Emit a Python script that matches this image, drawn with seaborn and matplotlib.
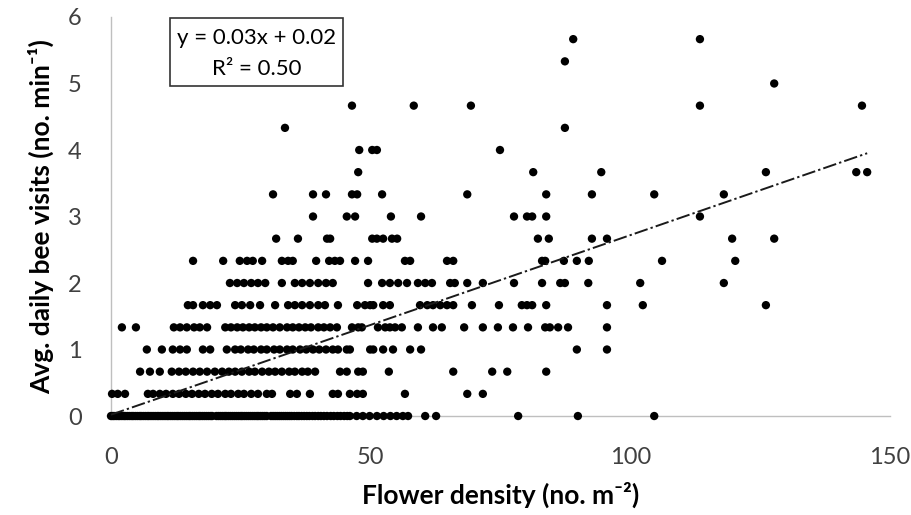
import numpy as np
import pandas as pd
import matplotlib
matplotlib.use("Agg")
import matplotlib.pyplot as plt
import seaborn as sns
from matplotlib.patches import Rectangle

# Flower density (no. m-2) values for each level of avg. daily bee visits
x_at_0 = [0.0, 0.3, 0.6, 1.0, 1.4, 1.7, 2.1, 2.5, 2.8, 3.2, 3.6, 4.0, 4.3, 4.7, 5.1, 5.5,
          5.8, 6.2, 6.6, 7.0, 7.3, 7.7, 8.1, 8.5, 8.9, 9.2, 9.6, 10.0, 10.4, 10.8, 11.1,
          11.5, 11.9, 12.3, 12.7, 13.0, 13.4, 13.8, 14.2, 14.6, 15.0, 15.3, 15.7, 16.1,
          16.5, 16.9, 17.2, 17.6, 18.0, 18.4, 18.8, 19.2, 19.5, 20.3, 20.7, 21.1, 21.5,
          21.9, 22.2, 22.6, 23.0, 23.4, 23.8, 24.2, 24.6, 25.0, 25.3, 25.7, 26.1, 26.5,
          26.9, 27.3, 27.7, 28.1, 28.4, 28.8, 29.2, 29.6, 30.0, 30.8, 31.2, 31.6, 32.0,
          32.4, 32.8, 33.2, 33.6, 34.0, 34.4, 34.8, 35.3, 35.8, 36.2, 36.7, 37.2, 37.7,
          38.2, 38.8, 39.3, 39.9, 40.4, 41.0, 41.6, 42.3, 42.9, 43.6, 44.2, 44.9, 45.5,
          46.0, 47.3, 48.5, 49.8, 51.2, 52.5, 53.8, 55.0, 56.2, 57.2, 60.5, 62.6, 78.4,
          89.9, 104.6]
x_at_033 = [0.2, 1.3, 2.7, 7.1, 8.1, 9.4, 10.6, 11.9, 13.1, 14.4, 15.6, 16.9, 18.1, 19.4,
            20.6, 22.0, 23.1, 24.5, 25.6, 27.0, 28.3, 30.0, 31.0, 34.5, 35.8, 38.3, 42.7,
            43.7, 46.0, 47.4, 48.5, 56.6, 68.6, 71.6]
x_at_067 = [5.6, 7.5, 9.4, 11.7, 13.1, 14.4, 15.8, 17.1, 18.5, 20.0, 21.4, 22.7, 23.9,
            25.2, 26.6, 27.7, 29.1, 30.4, 31.6, 32.9, 34.3, 35.4, 36.8, 37.9, 39.3, 44.1,
            45.4, 47.6, 48.5, 53.5, 65.9, 73.4, 76.3, 83.8]
x_at_1 = [6.9, 9.8, 11.9, 13.3, 14.6, 17.7, 19.1, 22.3, 23.9, 25.0, 26.4, 27.5, 28.9,
          30.0, 31.4, 32.5, 33.9, 35.0, 36.4, 37.6, 38.9, 40.1, 41.4, 42.7, 43.7, 45.4,
          46.0, 49.9, 50.5, 52.4, 54.3, 57.6, 59.7, 89.7, 95.5]
x_at_133 = [2.1, 4.8, 12.1, 13.3, 14.6, 16.0, 17.1, 18.5, 22.0, 23.1, 24.3, 25.4, 26.6,
            27.7, 28.9, 30.0, 31.2, 32.5, 33.9, 35.0, 36.2, 37.4, 38.5, 39.9, 41.0, 42.2,
            43.5, 46.4, 47.6, 48.3, 51.4, 52.8, 53.7, 54.7, 56.0, 59.1, 62.0, 63.7, 68.0,
            71.6, 74.5, 77.4, 80.3, 83.6, 84.5, 86.1, 88.0, 95.5]
x_at_167 = [14.8, 15.8, 17.7, 19.1, 20.4, 23.9, 25.2, 26.8, 28.7, 31.6, 34.1, 35.4, 36.8,
            38.3, 39.9, 41.2, 43.7, 47.4, 48.9, 49.9, 50.5, 52.4, 53.7, 59.5, 60.9, 62.0,
            63.4, 64.7, 65.9, 69.5, 74.7, 79.1, 80.1, 81.1, 83.8, 95.5, 102.4, 126.1]
x_at_2 = [22.9, 24.3, 25.6, 27.0, 28.3, 29.7, 32.9, 35.4, 36.8, 38.3, 39.9, 41.4, 42.7,
          49.5, 52.2, 53.7, 55.3, 57.0, 59.1, 60.5, 61.8, 65.3, 66.2, 68.6, 71.6, 77.6,
          83.0, 86.5, 87.4, 91.9, 101.9, 118.0]
x_at_233 = [15.8, 21.6, 24.8, 26.2, 27.3, 29.1, 32.9, 34.1, 35.0, 39.5, 42.0, 43.1, 44.1,
            47.0, 49.5, 56.6, 57.6, 64.7, 65.9, 83.0, 83.6, 87.2, 89.7, 92.0, 106.1, 120.2]
x_at_267 = [31.8, 36.0, 41.6, 42.2, 50.3, 51.2, 52.4, 54.1, 55.1, 82.2, 84.3, 92.6, 95.5,
            119.6, 127.7]
x_at_3 = [38.9, 45.4, 47.0, 53.9, 59.7, 77.6, 80.1, 81.1, 83.8, 113.4]
x_at_333 = [31.2, 38.9, 41.4, 46.4, 47.4, 52.2, 68.6, 83.8, 92.6, 104.6, 118.0]
x_at_367 = [47.6, 81.3, 94.4, 126.1, 143.5, 145.6]
x_at_4 = [47.8, 50.3, 51.2, 74.9]
x_at_433 = [33.5, 87.4]
x_at_467 = [46.4, 58.3, 69.3, 113.4, 144.6]
x_at_5 = [127.7]
x_at_533 = [87.4]
x_at_567 = [89.0, 113.4]

visit_levels = [0, 0.333, 0.667, 1.0, 1.333, 1.667, 2.0, 2.333, 2.667, 3.0, 3.333,
                3.667, 4.0, 4.333, 4.667, 5.0, 5.333, 5.667]
density_rows = [x_at_0, x_at_033, x_at_067, x_at_1, x_at_133, x_at_167, x_at_2,
                x_at_233, x_at_267, x_at_3, x_at_333, x_at_367, x_at_4, x_at_433,
                x_at_467, x_at_5, x_at_533, x_at_567]

# Linear trendline as printed on the chart (slope)
trend_slope = 0.027
trend_intercept = 0.02
equation_text = "y = 0.03x + 0.02"
r2_text = "R² = 0.50"

x_ticks = [0, 50, 100, 150]
y_ticks = [0, 1, 2, 3, 4, 5, 6]

rows = []
for lvl, xs in zip(visit_levels, density_rows):
    for xv in xs:
        rows.append((xv, lvl))
df = pd.DataFrame(rows, columns=["density", "visits"])

sns.set_theme(style="white")
plt.rcParams["font.family"] = ["Lato", "DejaVu Sans"]

fig = plt.figure(figsize=(9.12, 5.15), dpi=100)
ax = fig.add_axes([0.1217, 0.1922, 0.8542, 0.7748])

sns.scatterplot(data=df, x="density", y="visits", color="black", s=36,
                edgecolor="none", linewidth=0, ax=ax, clip_on=False, zorder=3)

line_x = np.array([0, df["density"].max()])
line_y = trend_intercept + trend_slope * line_x
ax.plot(line_x, line_y, color="#1a1a1a", lw=1.4,
        linestyle=(0, (7, 1.6, 1.2, 1.6)), zorder=4, clip_on=False)

ax.set_xlim(0, 150)
ax.set_ylim(0, 6)
ax.set_xticks(x_ticks)
ax.set_yticks(y_ticks)
ax.tick_params(axis="both", length=0, labelsize=17, labelcolor="#404040")
ax.tick_params(axis="y", pad=21)
ax.tick_params(axis="x", pad=22)

for side in ["top", "right"]:
    ax.spines[side].set_visible(False)
for side in ["left", "bottom"]:
    ax.spines[side].set_color("#bfbfbf")
    ax.spines[side].set_linewidth(1.0)

ax.set_xlabel("Flower density (no. m⁻²)", fontsize=19, fontweight="bold",
              color="black", labelpad=10)
ax.set_ylabel("Avg. daily bee visits (no. min⁻¹)", fontsize=19, fontweight="bold",
              color="black", labelpad=10)

ax.add_patch(Rectangle((0.0757, 0.827), 0.222, 0.170, transform=ax.transAxes,
                       facecolor="white", edgecolor="#333333", lw=1.2, zorder=5,
                       clip_on=False))
ax.text(0.187, 0.947, equation_text, transform=ax.transAxes, ha="center",
        va="center", fontsize=16, color="black", zorder=6)
ax.text(0.187, 0.870, r2_text, transform=ax.transAxes, ha="center",
        va="center", fontsize=16, color="black", zorder=6)

fig.savefig("out.png", dpi=100)
